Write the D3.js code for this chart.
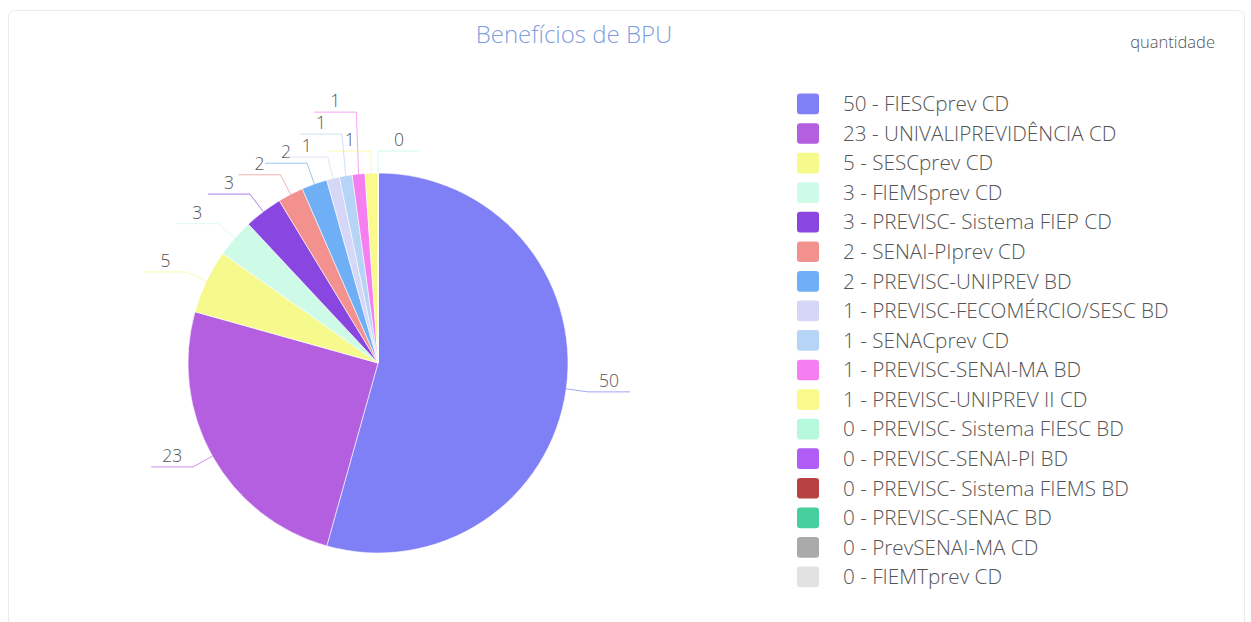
<!DOCTYPE html>
<html>
<head>
<meta charset="utf-8">
<script src="https://cdn.jsdelivr.net/npm/d3@7"></script>
<style>
  body { margin: 0; background: #fff; }
  svg { font-family: "Open Sans", sans-serif; }
</style>
</head>
<body>
<svg width="1251" height="622"></svg>
<script>
"use strict";

// Data.

var names = [
    "FIESCprev CD", "UNIVALIPREVIDÊNCIA CD", "SESCprev CD", "FIEMSprev CD",
    "PREVISC- Sistema FIEP CD", "SENAI-PIprev CD", "PREVISC-UNIPREV BD",
    "PREVISC-FECOMÉRCIO/SESC BD", "SENACprev CD", "PREVISC-SENAI-MA BD",
    "PREVISC-UNIPREV II CD", "PREVISC- Sistema FIESC BD", "PREVISC-SENAI-PI BD",
    "PREVISC- Sistema FIEMS BD", "PREVISC-SENAC BD", "PrevSENAI-MA CD", "FIEMTprev CD"
];
var values = [50, 23, 5, 3, 3, 2, 2, 1, 1, 1, 1, 0, 0, 0, 0, 0, 0];

var palette = [
    "#8080f6", "#b35fdf", "#f6fa8c", "#cdfbe8", "#8a46e0", "#f2918d", "#6eaff5",
    "#d6d6f6", "#b6d4f5", "#f57ef0", "#fafa8a", "#b6f9dc", "#b05cf5", "#b84242",
    "#46d09e", "#aaaaaa", "#e2e2e2"
];

var title = "Benefícios de BPU";
var subtitle = "quantidade";

// SVG and layout constants.

var svg = d3.select("svg");
var width = +svg.attr("width");
var height = +svg.attr("height");

var CX = 378, CY = 363, Radius = 190;
var LineLen1 = 22, LineLen2 = 42;
var TextColor = "#555";

var color = d3.scaleOrdinal().domain(names).range(palette);

// Card background.

svg.append("rect")
    .attr("x", 8.5).attr("y", 10.5)
    .attr("width", 1236).attr("height", 640)
    .attr("rx", 6)
    .attr("fill", "#fff")
    .attr("stroke", "#ebebeb");

// Titles.

svg.append("text")
    .attr("x", 574).attr("y", 43)
    .attr("text-anchor", "middle")
    .attr("font-size", 24)
    .attr("font-weight", 300)
    .attr("fill", "#7f9edc")
    .text(title);

svg.append("text")
    .attr("x", 1215).attr("y", 48)
    .attr("text-anchor", "end")
    .attr("font-size", 16.5)
    .attr("font-weight", 300)
    .attr("fill", TextColor)
    .text(subtitle);

// Pie.

var rows = names.map(function(n, i){ return {name: n, value: values[i]}; });

var pie = d3.pie()
    .sort(null)
    .value(function(d){ return d.value; });
var arcs = pie(rows);

var arc = d3.arc().innerRadius(0).outerRadius(Radius);

var g = svg.append("g").attr("transform", "translate(" + CX + "," + CY + ")");

g.selectAll("path")
    .data(arcs)
    .enter()
    .append("path")
        .attr("d", arc)
        .attr("fill", function(d){ return color(d.data.name); })
        .attr("stroke", "#fff")
        .attr("stroke-width", 0.6);

// Labels with label lines. Crowded labels are pushed upward;
// labels of empty slices that collide are dropped.

var placed = [];
var overlaps = function(b){
    return placed.some(function(p){
        return b.x0 < p.x1 && b.x1 > p.x0 && b.y0 < p.y1 && b.y1 > p.y0;
    });
};

arcs.forEach(function(d){
    var mid = (d.startAngle + d.endAngle) / 2;
    var sx = Math.sin(mid), sy = -Math.cos(mid);
    var right = sx >= -1e-6;
    var p0 = [Radius * sx, Radius * sy];
    var p1 = [(Radius + LineLen1) * sx, (Radius + LineLen1) * sy];
    var label = String(d.data.value);
    var tw = label.length * 10;
    var tx = p1[0] + (right ? LineLen2 : -LineLen2) / 2;

    var boxAt = function(y){
        return {x0: tx - tw / 2 - 5, x1: tx + tw / 2 + 5, y0: y - 18, y1: y + 2};
    };
    var box = boxAt(p1[1]);
    if (overlaps(box)){
        if (d.data.value === 0) return;
        var tries = 0;
        while (overlaps(box) && tries < 12){
            p1[1] -= 4;
            box = boxAt(p1[1]);
            tries++;
        }
    }
    placed.push(box);
    var p2 = [p1[0] + (right ? LineLen2 : -LineLen2), p1[1]];

    g.append("polyline")
        .attr("points", [p0, p1, p2].map(function(p){ return p.join(","); }).join(" "))
        .attr("fill", "none")
        .attr("stroke", color(d.data.name))
        .attr("stroke-opacity", 0.7)
        .attr("stroke-width", 1);

    g.append("text")
        .attr("x", tx).attr("y", p1[1] - 5)
        .attr("text-anchor", "middle")
        .attr("font-size", 17.5)
        .attr("font-weight", 300)
        .attr("fill", TextColor)
        .text(label);
});

// Legend.

var legendY = d3.scaleBand()
    .domain(names)
    .range([93.6, 587.3])
    .paddingInner(0.3);

var legend = svg.append("g");

var items = legend.selectAll("g")
    .data(rows)
    .enter()
    .append("g")
        .attr("transform", function(d){ return "translate(797," + legendY(d.name) + ")"; });

items.append("rect")
    .attr("width", 22)
    .attr("height", legendY.bandwidth())
    .attr("rx", 3)
    .attr("fill", function(d){ return color(d.name); });

items.append("text")
    .attr("x", 46)
    .attr("y", legendY.bandwidth() / 2)
    .attr("dy", "0.35em")
    .attr("font-size", 20.7)
    .attr("font-weight", 300)
    .attr("fill", TextColor)
    .text(function(d){ return d.value + " - " + d.name; });
</script>
</body>
</html>
